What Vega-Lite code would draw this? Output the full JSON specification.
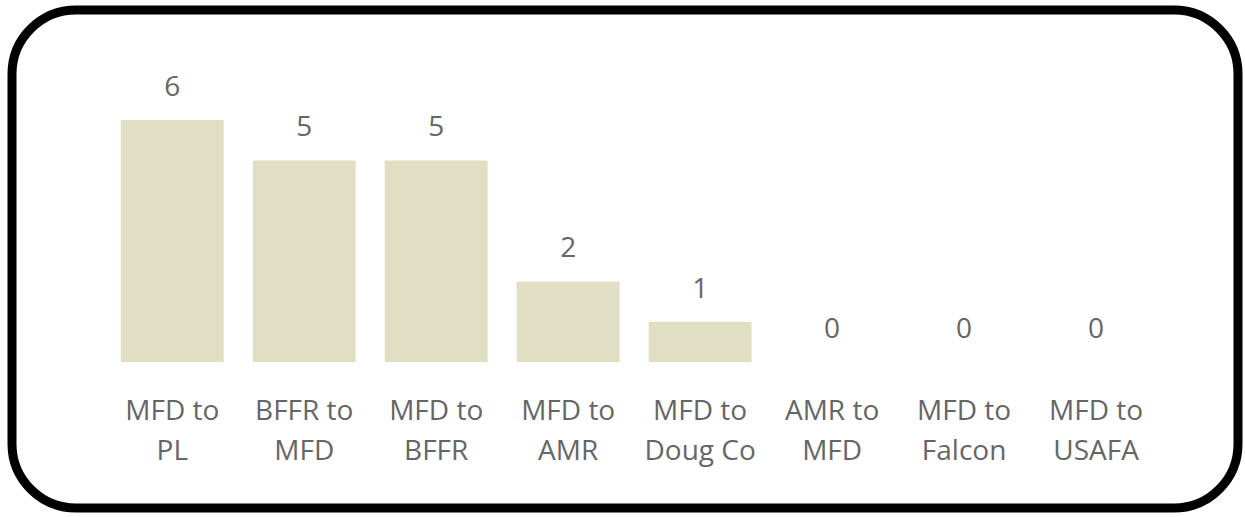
{
  "$schema": "https://vega.github.io/schema/vega-lite/v6.json",
  "width": 1226,
  "height": 498,
  "autosize": {"type": "none"},
  "padding": {"left": 12, "top": 10, "right": 7, "bottom": 9},
  "background": "#ffffff",
  "config": {
    "view": {"stroke": "#000000", "strokeWidth": 9, "cornerRadius": 64, "fill": "#ffffff"},
    "font": "Segoe UI, Open Sans, sans-serif"
  },
  "data": {
    "values": [
      {"route": "MFD to PL", "count": 6},
      {"route": "BFFR to MFD", "count": 5},
      {"route": "MFD to BFFR", "count": 5},
      {"route": "MFD to AMR", "count": 2},
      {"route": "MFD to Doug Co", "count": 1},
      {"route": "AMR to MFD", "count": 0},
      {"route": "MFD to Falcon", "count": 0},
      {"route": "MFD to USAFA", "count": 0}
    ]
  },
  "encoding": {
    "x": {
      "field": "route",
      "type": "nominal",
      "sort": null,
      "scale": {"paddingInner": 0.22, "paddingOuter": 0.755, "align": 0.546},
      "axis": {
        "title": null,
        "domain": false,
        "ticks": false,
        "tickSize": 0,
        "labelAngle": 0,
        "labelPadding": 0,
        "offset": -111,
        "labelBaseline": "top",
        "labelFontSize": 28,
        "labelColor": "#666666",
        "labelLineHeight": 40,
        "labelFont": "Segoe UI, Open Sans, sans-serif",
        "labelExpr": "[substring(datum.value, 0, indexof(datum.value, ' to') + 3), substring(datum.value, indexof(datum.value, ' to') + 4)]"
      }
    }
  },
  "layer": [
    {
      "mark": {"type": "bar", "color": "#E1DFC3"},
      "encoding": {
        "y": {"field": "count", "type": "quantitative", "scale": {"domain": [-3.62, 8.73], "nice": false, "zero": false}, "axis": null},
        "y2": {"datum": 0}
      }
    },
    {
      "mark": {"type": "text", "baseline": "middle", "dy": -32, "fontSize": 28, "color": "#666666"},
      "encoding": {
        "y": {"field": "count", "type": "quantitative"},
        "text": {"field": "count", "type": "quantitative"}
      }
    }
  ]
}
